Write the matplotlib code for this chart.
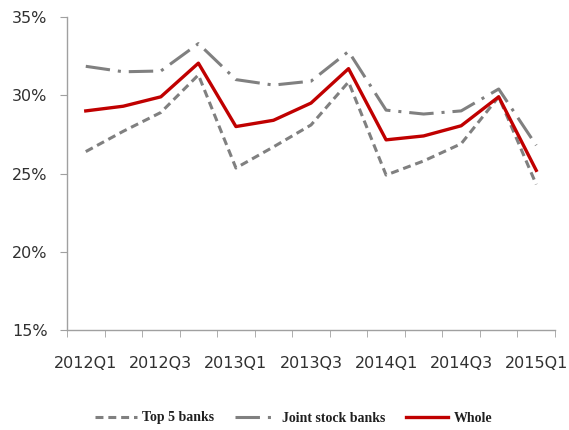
import matplotlib.pyplot as plt
import numpy as np
from matplotlib.ticker import FuncFormatter

# Quarterly ratios (%) for each bank group
quarters = ["2012Q1", "2012Q2", "2012Q3", "2012Q4", "2013Q1", "2013Q2", "2013Q3",
            "2013Q4", "2014Q1", "2014Q2", "2014Q3", "2014Q4", "2015Q1"]
top5 = [26.4, 27.7, 28.9, 31.3, 25.35, 26.7, 28.1, 30.85, 24.9, 25.8, 26.9, 29.9, 24.3]
joint_stock = [31.85, 31.5, 31.55, 33.3, 31.0, 30.65, 30.9, 32.8, 29.05, 28.8, 29.0, 30.4, 26.8]
whole = [29.0, 29.3, 29.9, 32.05, 28.0, 28.4, 29.5, 31.7, 27.15, 27.4, 28.05, 29.9, 25.2]

gray = "#808080"
red = "#c00000"
axis_gray = "#a0a0a0"
text_col = "#303030"

fig = plt.figure(figsize=(5.69, 4.30), dpi=100)
ax = fig.add_axes([67 / 569, 1 - 330 / 430, (555 - 67) / 569, (330 - 17) / 430])

x = np.arange(len(quarters))
ax.plot(x, top5, color=gray, lw=2.2, dashes=(2.6, 1.6), label="Top 5 banks")
ax.plot(x, joint_stock, color=gray, lw=2.2, dashes=(8, 2.6, 1, 2.6), label="Joint stock banks")
ax.plot(x, whole, color=red, lw=2.4, label="Whole")

ax.set_xlim(-0.5, len(quarters) - 0.5)
ax.set_ylim(15, 35)
ax.set_yticks([15, 20, 25, 30, 35])
ax.yaxis.set_major_formatter(FuncFormatter(lambda v, p: f"{v:.0f}%"))

# labels on every second quarter, tick marks between categories
ax.set_xticks(x[::2])
ax.set_xticklabels(quarters[::2])
ax.set_xticks(np.arange(-0.5, len(quarters)), minor=True)
ax.tick_params(axis="x", which="major", length=0, pad=19, labelsize=11.5, labelcolor=text_col)
ax.tick_params(axis="x", which="minor", length=5, color=axis_gray, direction="out")
ax.tick_params(axis="y", length=5, color=axis_gray, pad=9, labelsize=11.5, labelcolor=text_col)

for s in ["top", "right"]:
    ax.spines[s].set_visible(False)
for s in ["left", "bottom"]:
    ax.spines[s].set_color(axis_gray)
    ax.spines[s].set_linewidth(1.0)

leg = fig.legend(loc="center", bbox_to_anchor=(0.516, 1 - 418 / 430), ncol=3, frameon=False,
                 prop={"family": "Liberation Serif", "size": 10, "weight": "bold"},
                 handlelength=3.0, columnspacing=1.5, handletextpad=0.4)
for t in leg.get_texts():
    t.set_color("#202020")

fig.savefig("out.png", dpi=100)
